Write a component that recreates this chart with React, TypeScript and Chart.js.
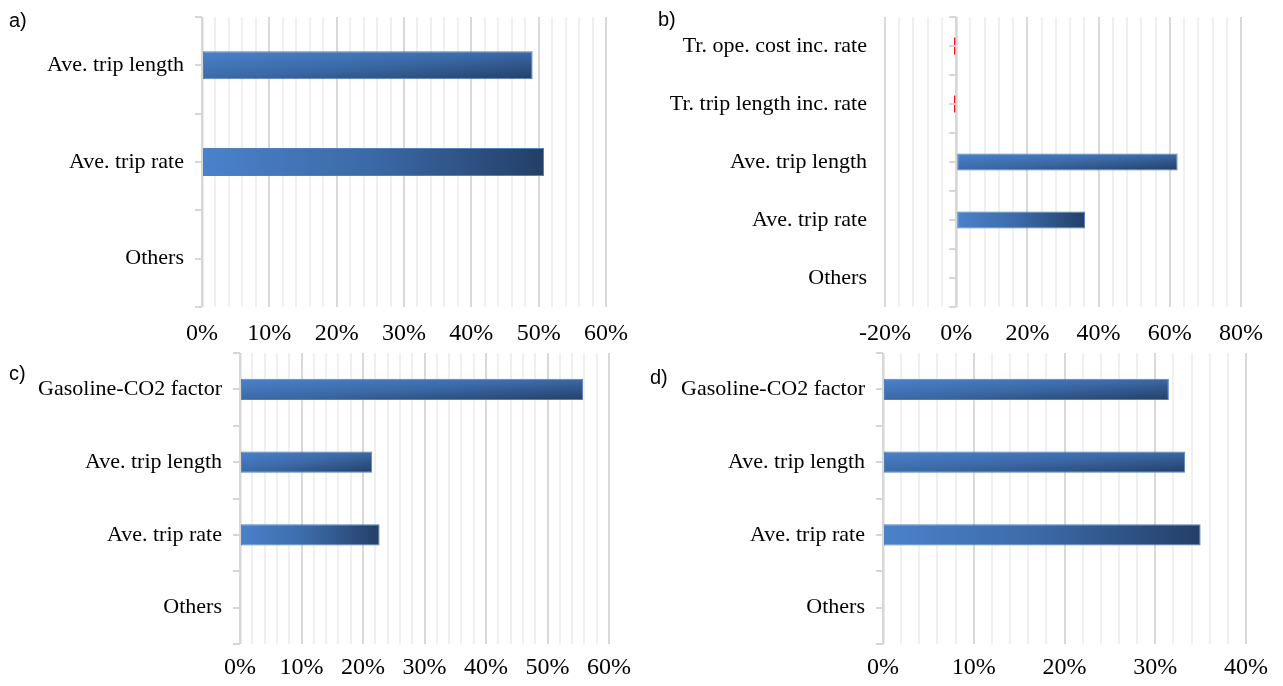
import React, { useEffect, useRef } from "react";
import { Chart, registerables } from "chart.js";

Chart.register(...registerables);

// ---------- data ----------
const panelALabels = ["Ave. trip length", "Ave. trip rate", "Others"];
const panelAValues = [49.1, 50.8, 0];

const panelBLabels = [
  "Tr. ope. cost inc. rate",
  "Tr. trip length inc. rate",
  "Ave. trip length",
  "Ave. trip rate",
  "Others",
];
const panelBValues = [-0.6, -0.6, 62.2, 36.2, 0];

const panelCLabels = ["Gasoline-CO2 factor", "Ave. trip length", "Ave. trip rate", "Others"];
const panelCValues = [55.8, 21.5, 22.7, 0];

const panelDLabels = ["Gasoline-CO2 factor", "Ave. trip length", "Ave. trip rate", "Others"];
const panelDValues = [31.5, 33.3, 35.0, 0];

// axis ranges: [min, max, minor step, labelled step]
const panelAAxis = [0, 60, 2, 10];
const panelBAxis = [-20, 80, 4, 20];
const panelCAxis = [0, 60, 2, 10];
const panelDAxis = [0, 40, 2, 10];

// labels whose bars have a purely horizontal gradient
const horizontalGradientLabels = ["Ave. trip rate"];

// ---------- styling ----------
const SERIF = '"Liberation Serif", "Times New Roman", serif';
const C_LIGHT = "#4a82cb";
const C_MID = "#3b69a6";
const C_DARK = "#233f68";
const C_RED = "#ff0000";
const BAR_PCT = 0.29;

const catAxisPlugin = {
  id: "catAxis",
  beforeDatasetsDraw(chart: any) {
    const { ctx, chartArea, scales } = chart;
    const x0 = scales.x.getPixelForValue(0);
    ctx.save();
    ctx.strokeStyle = "#d6d6d6";
    ctx.lineWidth = 2;
    ctx.beginPath();
    ctx.moveTo(x0 + 0.5, chartArea.top);
    ctx.lineTo(x0 + 0.5, chartArea.bottom);
    ctx.stroke();
    ctx.restore();
  },
  afterDatasetsDraw(chart: any) {
    const { ctx, chartArea, scales } = chart;
    const x0 = scales.x.getPixelForValue(0);
    const n = chart.data.labels.length;
    const step = (chartArea.bottom - chartArea.top) / n;
    ctx.save();
    ctx.strokeStyle = "#d6d6d6";
    ctx.lineWidth = 2;
    for (let i = 0; i <= 2 * n; i++) {
      const y = Math.round(chartArea.top + (i * step) / 2);
      ctx.beginPath();
      ctx.moveTo(x0 - 7, y);
      ctx.lineTo(x0, y);
      ctx.stroke();
    }
    ctx.restore();
  },
};

type PanelProps = {
  labels: string[];
  values: number[];
  axis: number[];
  left: number;
  top: number;
  width: number;
  height: number;
  yWidth: number;
  padTop: number;
  padRight: number;
  xHeight: number;
  tickPad: number;
};

function Panel(p: PanelProps) {
  const ref = useRef<HTMLCanvasElement | null>(null);
  useEffect(() => {
    if (!ref.current) return;
    const [min, max, minor, major] = p.axis;
    const fill = (c: any) => {
      const chart = c.chart;
      const v = c.raw;
      if (v == null) return C_LIGHT;
      if (v < 0) return C_RED;
      if (!chart.chartArea) return C_LIGHT;
      const xs = chart.scales.x;
      const ys = chart.scales.y;
      const x0 = xs.getPixelForValue(0);
      const x1 = xs.getPixelForValue(v);
      const W = x1 - x0;
      const H = (ys.height / p.labels.length) * BAR_PCT;
      const yc = ys.getPixelForValue(c.dataIndex);
      const yTop = yc - H / 2;
      if (W < 2) return C_LIGHT;
      const g2 = chart.ctx;
      let g;
      if (horizontalGradientLabels.includes(p.labels[c.dataIndex])) {
        g = g2.createLinearGradient(x0, 0, x1, 0);
      } else {
        const a = 1 / (2 * W);
        const b = 1 / (2 * H);
        const den = a * a + b * b;
        g = g2.createLinearGradient(x0, yTop, x0 + a / den, yTop + b / den);
      }
      g.addColorStop(0, C_LIGHT);
      g.addColorStop(0.5, C_MID);
      g.addColorStop(1, C_DARK);
      return g;
    };
    const chart = new Chart(ref.current, {
      type: "bar",
      data: {
        labels: p.labels,
        datasets: [
          {
            data: p.values,
            backgroundColor: fill,
            borderColor: (c: any) => (c.raw < 0 ? C_RED : "#4f81bd"),
            borderWidth: (c: any) => (c.raw < 0 ? 0 : 1),
            borderSkipped: false,
            barPercentage: BAR_PCT,
            categoryPercentage: 1,
          },
        ],
      },
      options: {
        indexAxis: "y",
        animation: false,
        responsive: false,
        maintainAspectRatio: false,
        layout: { padding: { top: p.padTop, right: p.padRight, left: 0, bottom: 0 } },
        plugins: { legend: { display: false }, tooltip: { enabled: false } },
        scales: {
          x: {
            type: "linear",
            min,
            max,
            afterFit: (s: any) => {
              s.height = p.xHeight;
            },
            border: { display: false },
            grid: {
              drawTicks: false,
              lineWidth: 2,
              color: (c: any) =>
                c.tick && Math.abs(c.tick.value % major) < 1e-9 ? "#d9d9d9" : "#f0f0f0",
            },
            ticks: {
              stepSize: minor,
              autoSkip: false,
              maxRotation: 0,
              padding: p.tickPad,
              color: "#000",
              font: { family: SERIF, size: 24 },
              callback: (v: any) => (Math.abs(Number(v) % major) < 1e-9 ? `${v}%` : ""),
            },
          },
          y: {
            type: "category",
            afterFit: (s: any) => {
              s.width = p.yWidth;
              s.paddingTop = 0;
              s.paddingBottom = 0;
            },
            border: { display: false },
            grid: { display: false, drawTicks: false },
            ticks: {
              padding: 18,
              color: "#000",
              font: { family: SERIF, size: 22 },
            },
          },
        },
      },
      plugins: [catAxisPlugin],
    } as any);
    return () => chart.destroy();
  }, []);
  return (
    <canvas
      ref={ref}
      width={p.width}
      height={p.height}
      style={{ position: "absolute", left: p.left, top: p.top, width: p.width, height: p.height }}
    />
  );
}

const tagStyle: React.CSSProperties = {
  position: "absolute",
  fontFamily: '"Liberation Sans", Arial, sans-serif',
  fontSize: 20,
  lineHeight: "20px",
  color: "#000",
};

export default function App() {
  return (
    <div
      style={{
        position: "absolute",
        left: 0,
        top: 0,
        width: 1283,
        height: 686,
        background: "#fff",
        overflow: "hidden",
      }}
    >
      <Panel labels={panelALabels} values={panelAValues} axis={panelAAxis}
        left={0} top={0} width={640} height={350} yWidth={202} padTop={17} padRight={32} xHeight={43} tickPad={12} />
      <Panel labels={panelBLabels} values={panelBValues} axis={panelBAxis}
        left={640} top={0} width={643} height={350} yWidth={245} padTop={17} padRight={42} xHeight={43} tickPad={12} />
      <Panel labels={panelCLabels} values={panelCValues} axis={panelCAxis}
        left={0} top={336} width={640} height={350} yWidth={240} padTop={17} padRight={27} xHeight={42} tickPad={9} />
      <Panel labels={panelDLabels} values={panelDValues} axis={panelDAxis}
        left={640} top={336} width={643} height={350} yWidth={243} padTop={17} padRight={37} xHeight={42} tickPad={9} />
      <div style={{ ...tagStyle, left: 9, top: 10 }}>a)</div>
      <div style={{ ...tagStyle, left: 658, top: 9 }}>b)</div>
      <div style={{ ...tagStyle, left: 9, top: 363 }}>c)</div>
      <div style={{ ...tagStyle, left: 650, top: 367 }}>d)</div>
    </div>
  );
}
